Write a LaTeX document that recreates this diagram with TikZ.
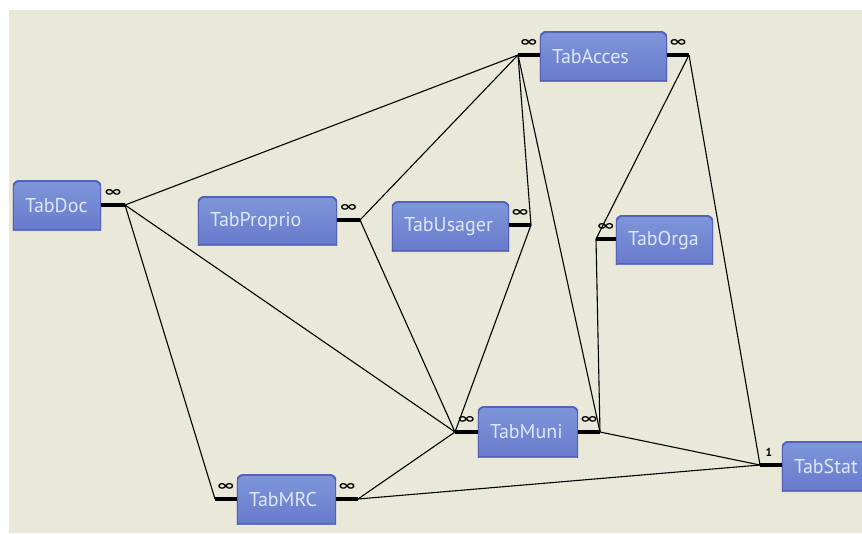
\documentclass[tikz,border=0pt]{standalone}
\usepackage{fontspec}
\setmainfont{PT Sans}
\newfontfamily\dejavu{DejaVu Sans}
\usepackage{graphicx}
\usetikzlibrary{backgrounds}
\definecolor{bgbeige}{RGB}{234,232,216}
\definecolor{boxtop}{RGB}{126,150,218}
\definecolor{boxbot}{RGB}{98,114,200}
\definecolor{boxline}{RGB}{86,98,186}
\definecolor{boxtext}{RGB}{222,232,248}
\newcommand\infsym{\resizebox{19pt}{7pt}{\dejavu\bfseries ∞}}
\begin{document}
\begin{tikzpicture}[x=1pt,y=-1pt,
  tabbox/.style={inner xsep=12pt, inner ysep=0pt, align=left, text=boxtext,
    font=\fontsize{20}{20}\selectfont, anchor=center},
  stub/.style={line width=4pt},
  rel/.style={line width=1.1pt},
  card/.style={inner sep=0pt, above=7pt}]
\useasboundingbox (0,0) rectangle (862,533);

% tables
\node[tabbox, minimum height=49pt, text width=64pt] (doc) at (57,205.5) {TabDoc};
\node[tabbox, minimum height=48pt, text width=115pt] (prop) at (267.5,221) {TabProprio};
\node[tabbox, minimum height=49pt, text width=103pt] (acc) at (603.5,56.5) {TabAcces};
\node[tabbox, minimum height=49pt, text width=93pt] (usa) at (450.5,226.5) {TabUsager};
\node[tabbox, minimum height=48pt, text width=73pt] (orga) at (664.5,240) {TabOrga};
\node[tabbox, minimum height=50pt, text width=76pt] (muni) at (528,432) {TabMuni};
\node[tabbox, minimum height=49pt, text width=75pt] (mrc) at (286.5,499.5) {TabMRC};
\node[tabbox, minimum height=49pt, text width=76pt] (stat) at (832,466.5) {TabStat};

% junction points
\coordinate (jDoc) at (125,205);
\coordinate (jAccL) at (518,55);
\coordinate (jAccR) at (689,55);
\coordinate (jProp) at (360,220);
\coordinate (jUsa) at (531,225);
\coordinate (jOrga) at (596,239);
\coordinate (jMuniL) at (455,432);
\coordinate (jMuniR) at (600,432);
\coordinate (jMrcL) at (215,499);
\coordinate (jMrcR) at (358,499);
\coordinate (jStat) at (760,465);

% stubs with cardinalities
\draw[stub] (doc.east |- jDoc) -- node[card] (cDoc) {\infsym} (jDoc);
\draw[stub] (acc.west |- jAccL) -- node[card] (cAccL) {\infsym} (jAccL);
\draw[stub] (acc.east |- jAccR) -- node[card] (cAccR) {\infsym} (jAccR);
\draw[stub] (prop.east |- jProp) -- node[card] (cProp) {\infsym} (jProp);
\draw[stub] (usa.east |- jUsa) -- node[card] (cUsa) {\infsym} (jUsa);
\draw[stub] (orga.west |- jOrga) -- node[card] (cOrga) {\infsym} (jOrga);
\draw[stub] (muni.west |- jMuniL) -- node[card] (cMuniL) {\infsym} (jMuniL);
\draw[stub] (muni.east |- jMuniR) -- node[card] (cMuniR) {\infsym} (jMuniR);
\draw[stub] (mrc.west |- jMrcL) -- node[card] (cMrcL) {\infsym} (jMrcL);
\draw[stub] (mrc.east |- jMrcR) -- node[card] (cMrcR) {\infsym} (jMrcR);
\draw[stub] (stat.west |- jStat) -- node[card, xshift=-2pt, font=\bfseries\fontsize{11.5}{11.5}\selectfont] (cStat) {1} (jStat);

% relations
\draw[rel] (jDoc) -- (jAccL);
\draw[rel] (jDoc) -- (jMuniL);
\draw[rel] (jDoc) -- (jMrcL);
\draw[rel] (jProp) -- (jAccL);
\draw[rel] (jProp) -- (jMuniL);
\draw[rel] (jUsa) -- (jAccL);
\draw[rel] (jUsa) -- (jMuniL);
\draw[rel] (jAccL) -- (jMuniR);
\draw[rel] (jAccR) -- (jOrga);
\draw[rel] (jAccR) -- (jStat);
\draw[rel] (jOrga) -- (jMuniR);
\draw[rel] (jMuniR) -- (jStat);
\draw[rel] (jMuniL) -- (jMrcR);
\draw[rel] (jMrcR) -- (jStat);

\begin{pgfonlayer}{background}
\fill[white] (0,0) rectangle (862,533);
\fill[bgbeige] (9,10) rectangle (862,533);
\foreach \n in {doc,prop,acc,usa,orga,muni,mrc,stat}{
  \begin{scope}
    \clip (\n.south west) rectangle (\n.north east);
    \shade[top color=boxtop, bottom color=boxbot, draw=boxline, line width=2pt,
      rounded corners=7pt] (\n.north west) rectangle ([yshift=-14pt]\n.south east);
  \end{scope}
  \draw[boxline, line width=1pt] ([yshift=0.5pt]\n.south west) -- ([yshift=0.5pt]\n.south east);
}
\end{pgfonlayer}
\end{tikzpicture}
\end{document}
